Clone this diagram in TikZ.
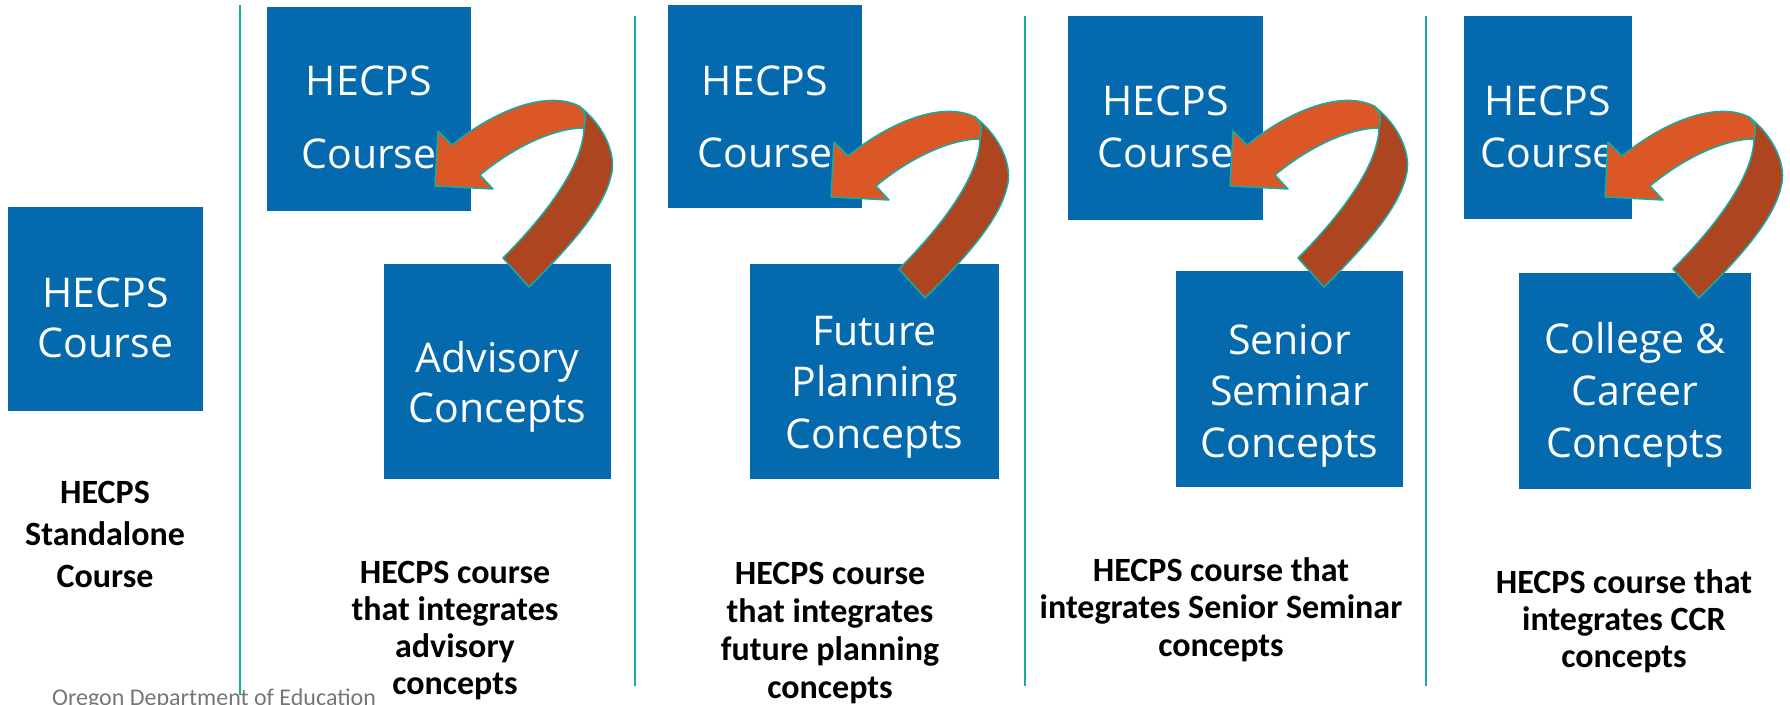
\documentclass[tikz,border=0pt]{standalone}
\usepackage{fontspec}
\setmainfont{Carlito}
\newfontfamily\boxfont{Open Sans}
\definecolor{hecpsblue}{RGB}{4,106,173}
\definecolor{arroworange}{RGB}{219,87,38}
\definecolor{arrowbrown}{RGB}{174,69,33}
\definecolor{rulecyan}{RGB}{25,170,160}
\definecolor{footgray}{RGB}{118,118,118}
\begin{document}
\begin{tikzpicture}[x=1pt, y=-1pt,
  bluebox/.style={fill=hecpsblue, inner sep=0pt},
  boxtext/.style={text=white, align=center, anchor=base, font=\boxfont\fontsize{41}{#1}\selectfont},
  boxtext/.default=52,
  caption/.style={align=center, anchor=base, font=\bfseries\fontsize{34}{#1}\selectfont},
  caption/.default=37,
  divider/.style={draw=rulecyan, line width=2.5pt},
  bentarrow/.pic={
    \draw[fill=arrowbrown, draw=rulecyan, line width=1.5pt, line join=round]
      (144, -80) .. controls (170, -60) and (182, -30) .. (176, -10)
      .. controls (168, 25) and (130, 65) .. (94, 101) -- (68, 72)
      .. controls (110, 30) and (148, -20) .. (149, -58)
      .. controls (151, -72) .. (144, -80) -- cycle;
    \draw[fill=arroworange, draw=rulecyan, line width=1.5pt, line join=round]
      (144, -80) .. controls (112, -96) and (60, -76) .. (17, -41) -- (3, -55) -- (0, 0)
      -- (58, 3) -- (45, -11) .. controls (80, -40) and (120, -58) .. (149, -58)
      .. controls (151, -72) .. (144, -80) -- cycle;
  }]
\useasboundingbox (0, 0) rectangle (1790, 704);
\draw[divider] (240, 5) -- (240, 695);
\draw[divider] (635, 16) -- (635, 686);
\draw[divider] (1025, 16) -- (1025, 686);
\draw[divider] (1426, 16) -- (1426, 686);
\path (105.5, 309) node[bluebox, minimum width=195pt, minimum height=204pt] (soloBox) {};
\path (369, 109) node[bluebox, minimum width=204pt, minimum height=204pt] (courseA) {};
\path (497.5, 371.5) node[bluebox, minimum width=227pt, minimum height=215pt] (advisory) {};
\path (765, 106.5) node[bluebox, minimum width=194pt, minimum height=203pt] (courseB) {};
\path (874.5, 371.5) node[bluebox, minimum width=249pt, minimum height=215pt] (planning) {};
\path (1165.5, 118) node[bluebox, minimum width=195pt, minimum height=204pt] (courseC) {};
\path (1289.5, 379) node[bluebox, minimum width=227pt, minimum height=216pt] (seminar) {};
\path (1548, 117.5) node[bluebox, minimum width=168pt, minimum height=203pt] (courseD) {};
\path (1635, 381) node[bluebox, minimum width=232pt, minimum height=216pt] (career) {};
\path (105.5, 357) node[boxtext=50] (soloText) {HECPS\\Course};
\path (369, 168) node[boxtext=73] (courseAText) {HECPS\\Course};
\path (497.5, 422) node[boxtext=50] (advisoryText) {Advisory\\Concepts};
\path (765, 167) node[boxtext=72] (courseBText) {HECPS\\Course};
\path (874.5, 448) node[boxtext=51.5] (planningText) {Future\\Planning\\Concepts};
\path (1165.5, 167) node[boxtext] (courseCText) {HECPS\\Course};
\path (1289.5, 457) node[boxtext=51.5] (seminarText) {Senior\\Seminar\\Concepts};
\path (1548, 167) node[boxtext] (courseDText) {HECPS\\Course};
\path (1635, 457) node[boxtext] (careerText) {College \&\\Career\\Concepts};
\path (105, 587) node[caption=42] (soloLabel) {HECPS\\Standalone\\Course};
\path (455, 694) node[caption] (advisoryLabel) {HECPS course\\that integrates\\advisory\\concepts};
\path (830, 698) node[caption=38] (planningLabel) {HECPS course\\that integrates\\future planning\\concepts};
\path (1221, 656) node[caption=37.5] (seminarLabel) {HECPS course that\\integrates Senior Seminar\\concepts};
\path (1624, 667) node[caption] (careerLabel) {HECPS course that\\integrates CCR\\concepts};
\path (52, 705) node[anchor=base west, inner sep=0pt, text=footgray, font=\fontsize{24}{24}\selectfont] (footer) {Oregon Department of Education};
\pic at (435, 186) {bentarrow};
\pic at (831, 197) {bentarrow};
\pic at (1230, 186) {bentarrow};
\pic at (1605, 197) {bentarrow};
\end{tikzpicture}
\end{document}
